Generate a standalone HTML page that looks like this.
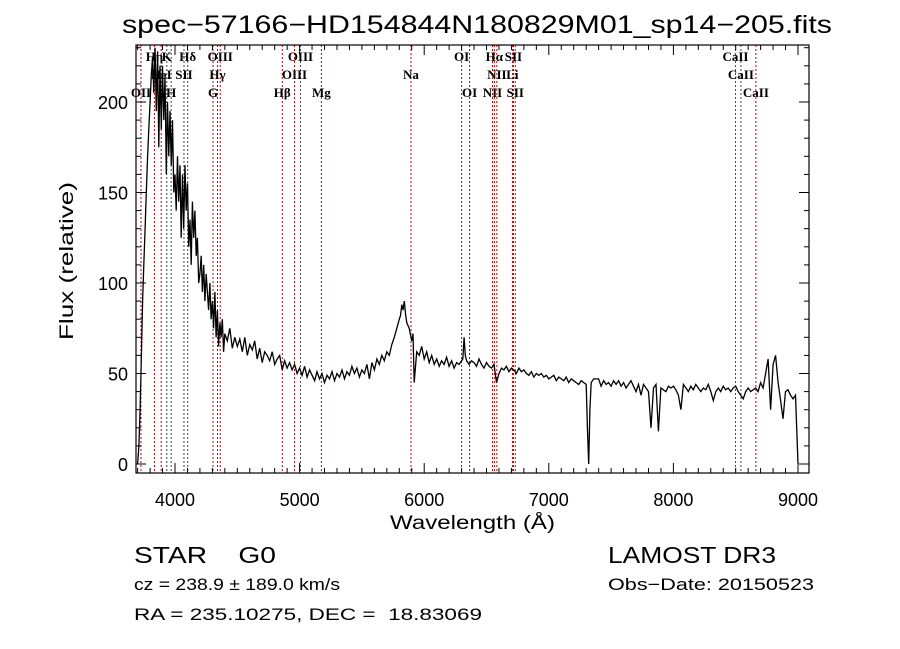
<!DOCTYPE html>
<html><head><meta charset="utf-8">
<style>
html,body{margin:0;padding:0;background:#fff;}
svg{display:block;}
text{font-family:"Liberation Sans",sans-serif;fill:#000;white-space:pre;}
.lbl{font-family:"Liberation Serif",serif;font-size:13px;font-weight:bold;}
</style></head>
<body>
<svg id="chart" width="900" height="649" viewBox="0 0 900 649" xmlns="http://www.w3.org/2000/svg" xml:space="preserve">
<rect width="900" height="649" fill="#fff"/>
<text x="122" y="33" font-size="25" textLength="710" lengthAdjust="spacingAndGlyphs">spec−57166−HD154844N180829M01_sp14−205.fits</text>
<g id="lines"></g>
<g id="labels"></g>
<path id="spec" fill="none" stroke="#000" stroke-width="1.3"/>
<rect x="136" y="45" width="673" height="428" fill="none" stroke="#000" stroke-width="1.2"/>
<g id="ticks" stroke="#000" stroke-width="1"></g>
<g id="xt"></g>
<g id="yt"></g>
<text x="390" y="529" font-size="19" textLength="165" lengthAdjust="spacingAndGlyphs">Wavelength (Å)</text>
<text transform="translate(73,340) rotate(-90)" font-size="19" textLength="158" lengthAdjust="spacingAndGlyphs">Flux (relative)</text>
<text x="134" y="563" font-size="23" textLength="142" lengthAdjust="spacingAndGlyphs">STAR    G0</text>
<text x="608" y="563" font-size="23" textLength="168" lengthAdjust="spacingAndGlyphs">LAMOST DR3</text>
<text x="134" y="590" font-size="17" textLength="206" lengthAdjust="spacingAndGlyphs">cz = 238.9 ± 189.0 km/s</text>
<text x="608" y="590" font-size="17" textLength="206" lengthAdjust="spacingAndGlyphs">Obs−Date: 20150523</text>
<text x="134" y="620" font-size="17" textLength="348" lengthAdjust="spacingAndGlyphs">RA = 235.10275, DEC =  18.83069</text>
</svg>
<script>
const waves=[
3700,3710,3720,3730,3740,3750,3760,3770,3780,3790,3800,3810,3820,3830,3840,3850,3860,3870,3880,3890,3900,3910,3920,3930,3940,3950,3960,3970,3980,3990,
4000,4010,4020,4030,4040,4050,4060,4070,4080,4090,4100,4110,4120,4130,4140,4150,4160,4170,4180,4190,4200,4210,4220,4230,4240,4250,4260,4270,4280,4290,4300,4310,4320,4330,4340,4350,4360,4370,4380,4390,
4400,4420,4440,4460,4480,4500,4520,4540,4560,4580,4600,4620,4640,4660,4680,4700,4720,4740,4760,4780,4800,4820,4840,4860,4880,4900,4920,4940,4960,4980,5000,5020,5040,5060,5080,5100,5120,5140,5160,5180,5200,5220,5240,5260,5280,5300,5320,5340,5360,5380,5400,5420,5440,5460,5480,5500,5520,5540,5560,5580,5600,5620,5640,5660,5680,5700,5720,5740,5760,5780,
5800,5810,5820,5830,5840,5850,5860,5880,5900,5910,5920,5940,5960,5980,
6000,6020,6040,6060,6080,6100,6120,6140,6160,6180,6200,6220,6240,6260,6280,6300,
6310,6320,6330,6340,6360,6380,
6400,6420,6440,6460,6480,6500,6520,6540,6560,6580,6600,6620,6640,6660,6680,6700,6720,6740,6760,6780,6800,6820,6840,6860,6880,6900,6920,6940,6960,6980,7000,7020,7040,7060,7080,7100,7120,7140,7160,7180,7200,7220,7240,7260,7280,7300,
7310,7320,7330,7340,7360,
7400,7420,7440,7460,7480,7500,7520,7540,7560,7580,7600,7620,7640,7660,7680,7700,7720,7740,7760,7780,7800,7820,7840,7860,7880,7900,7920,7940,7960,7980,8000,8020,8040,8060,8080,8100,8120,8140,8160,8180,8200,8220,8240,8260,8280,8300,8320,8340,8360,8380,8400,8420,8440,8460,8480,8500,8520,8540,8560,8580,8600,8620,8640,8660,8680,8700,8720,8740,8760,8780,8800,8820,8840,8860,8880,8900,8920,8940,8960,8980,9000];
const flux=[
0,10,30,60,90,110,130,150,170,185,200,215,225,205,230,195,228,175,220,185,220,190,215,160,200,170,195,165,190,150,
160,140,170,145,165,125,160,130,165,140,155,120,135,110,145,125,140,115,125,100,105,115,95,110,90,105,95,85,100,80,90,75,95,70,85,65,78,70,80,62,
72,68,75,64,70,65,69,62,70,60,66,63,68,58,64,56,62,60,57,62,55,58,60,52,57,53,56,52,55,50,53,49,54,48,52,49,46,51,47,50,45,49,47,51,46,50,48,52,47,51,49,54,50,53,48,52,50,55,47,56,52,58,55,60,57,62,60,66,70,75,
80,82,88,85,90,83,78,75,68,72,45,62,60,65,
58,62,56,60,55,58,54,57,55,59,54,57,53,56,55,57,
58,70,60,57,55,57,
56,54,58,55,53,56,54,53,55,45,50,53,52,54,51,53,52,50,53,51,52,50,49,51,48,50,49,50,48,49,47,48,49,46,48,47,46,48,45,47,46,45,44,46,45,44,
20,0,30,45,47,
47,43,46,44,45,43,46,44,46,43,45,42,44,46,43,40,44,38,44,42,40,20,42,44,18,42,41,40,43,42,43,41,38,30,44,42,40,43,41,44,42,40,42,41,44,40,35,40,42,40,43,41,42,40,42,43,40,38,36,40,42,40,41,42,40,45,42,50,58,30,55,60,45,35,25,40,41,38,36,38,0];
const lineWaves=[3727,3835,3889,3934,3969,4072,4102,4305,4341,4363,4861,4959,5007,5175,5894,6300,6364,6548,6563,6583,6708,6716,6731,8498,8542,8662];
const lineNames=["OII","Hη","HeI","K","H","SII","Hδ","G","Hγ","OIII","Hβ","OIII","OIII","Mg","Na","OI","OI","NII","Hα","NII","Li","SII","SII","CaII","CaII","CaII"];
const lineRows=[2,0,1,0,2,1,0,2,1,0,2,1,0,2,1,0,2,2,0,1,1,0,2,0,1,2];
const lineDark=[0,0,0,1,1,1,1,0,0,0,0,0,1,0,0,0,0,0,0,0,0,0,0,1,1,0];
const xTicks=[4000,5000,6000,7000,8000,9000];
const yTicks=[0,50,100,150,200];
const X0=136,X1=809,Y0=45,Y1=473;
function xs(w){return 175+(w-4000)*0.1246;}
function ys(f){return 464-f*1.81;}
const NS="http://www.w3.org/2000/svg";
function mk(tag,attrs,parent){const e=document.createElementNS(NS,tag);for(const k in attrs)e.setAttribute(k,attrs[k]);parent.appendChild(e);return e;}
let d="";
const n=Math.min(waves.length,flux.length);
for(let i=0;i<n;i++){d+=(i?"L":"M")+xs(waves[i]).toFixed(1)+","+ys(flux[i]).toFixed(1);}
document.getElementById("spec").setAttribute("d",d);
const lg=document.getElementById("lines"),lb=document.getElementById("labels");
const rowY=[61,79,97];
for(let i=0;i<lineWaves.length;i++){
  const x=xs(lineWaves[i]);
  const l=mk("line",{x1:x,x2:x,y1:Y0,y2:Y1,stroke:lineDark[i]?"#444":"#c00000","stroke-width":1,"stroke-dasharray":"2,2"},lg);
  
  
  const t=mk("text",{x:x,y:rowY[lineRows[i]],"text-anchor":"middle",class:"lbl"},lb);
  t.textContent=lineNames[i];
  
  
}
const tg=document.getElementById("ticks");
for(let w=3700;w<=9000;w+=100){
  const x=xs(w);if(x<X0||x>X1)continue;
  const len=(w%1000===0)?10:5;
  mk("line",{x1:x,x2:x,y1:Y1,y2:Y1-len},tg);
  mk("line",{x1:x,x2:x,y1:Y0,y2:Y0+len},tg);
}
for(let f=0;f<=230;f+=10){
  const y=ys(f);if(y<Y0||y>Y1)continue;
  const len=(f%50===0)?10:5;
  mk("line",{x1:X0,x2:X0+len,y1:y,y2:y},tg);
  mk("line",{x1:X1,x2:X1-len,y1:y,y2:y},tg);
}
const xt=document.getElementById("xt");
xTicks.forEach(v=>{const t=mk("text",{x:xs(v),y:506,"text-anchor":"middle","font-size":"18"},xt);t.textContent=v;
  
  });
const yt=document.getElementById("yt");
yTicks.forEach(v=>{const t=mk("text",{x:128,y:ys(v)+7,"text-anchor":"end","font-size":"18"},yt);t.textContent=v;
  
  });
</script>
</body></html>
